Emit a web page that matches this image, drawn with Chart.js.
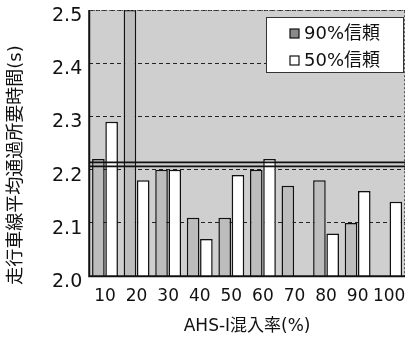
<!DOCTYPE html>
<html><head><meta charset="utf-8">
<script src="https://cdn.jsdelivr.net/npm/chart.js@4.4.0/dist/chart.umd.min.js"></script>
<style>html,body{margin:0;padding:0;background:#fff}#wrap{width:409px;height:340px}</style>
</head><body><div id="wrap"><canvas id="c" width="409" height="340"></canvas></div>
<script>
const categories = ['10','20','30','40','50','60','70','80','90','100'];
const conf90 = [2.22, 2.50, 2.20, 2.11, 2.11, 2.20, 2.17, 2.18, 2.10, null];
const conf50 = [2.29, 2.18, 2.20, 2.07, 2.19, 2.22, null, 2.08, 2.16, 2.14];
const seriesNames = ['90%信頼', '50%信頼'];
const refLine = [2.21];
const yTicks = [2.0, 2.1, 2.2, 2.3, 2.4, 2.5];
const yTitle = '走行車線平均通過所要時間(s)';
const xTitle = 'AHS-Ⅰ混入率(%)';

const FONT = '"DejaVu Sans", Verdana, "Noto Sans CJK JP", sans-serif';

const bgPlugin = {
  id: 'bg',
  beforeDraw(chart) {
    const {ctx, chartArea: a} = chart;
    ctx.save();
    ctx.fillStyle = '#cfcfcf';
    ctx.fillRect(a.left, a.top, a.right - a.left, a.bottom - a.top);
    ctx.restore();
  },
  afterDatasetsDraw(chart) {
    const {ctx, chartArea: a, scales} = chart;
    ctx.save();
    refLine.forEach(v => {
      const y = scales.y.getPixelForValue(v);
      ctx.strokeStyle = '#111';
      ctx.lineWidth = 1.6;
      ctx.beginPath(); ctx.moveTo(a.left, y - 2); ctx.lineTo(a.right, y - 2); ctx.stroke();
      ctx.beginPath(); ctx.moveTo(a.left, y + 2); ctx.lineTo(a.right, y + 2); ctx.stroke();
    });
    ctx.strokeStyle = '#555';
    ctx.lineWidth = 1;
    ctx.setLineDash([2, 2]);
    ctx.beginPath();
    ctx.moveTo(a.left, a.top + 0.5); ctx.lineTo(a.right - 0.5, a.top + 0.5); ctx.lineTo(a.right - 0.5, a.bottom);
    ctx.stroke();
    ctx.setLineDash([]);
    ctx.strokeStyle = '#111';
    ctx.lineWidth = 2;
    ctx.beginPath(); ctx.moveTo(a.left, a.top); ctx.lineTo(a.left, a.bottom); ctx.lineTo(a.right, a.bottom); ctx.stroke();
    // legend
    const lx = a.right - 139, ly = a.top + 7, lw = 138, lh = 56;
    ctx.fillStyle = '#fff';
    ctx.fillRect(lx, ly, lw, lh);
    ctx.strokeStyle = '#333';
    ctx.lineWidth = 1;
    ctx.strokeRect(lx + 0.5, ly + 0.5, lw - 1, lh - 1);
    ctx.font = '18px ' + FONT;
    ctx.textBaseline = 'middle';
    const fills = ['#8a8a8a', '#ffffff'];
    fills.forEach((f, i) => {
      const cy = ly + 16 + i * 27;
      ctx.fillStyle = f;
      ctx.fillRect(lx + 24, cy - 4, 9, 9);
      ctx.strokeStyle = '#111';
      ctx.lineWidth = 1.2;
      ctx.strokeRect(lx + 24, cy - 4, 9, 9);
      ctx.fillStyle = '#111';
      ctx.fillText(seriesNames[i], lx + 38, cy + 1);
    });
    ctx.restore();
  },
  afterDraw(chart) {
    const {ctx} = chart;
    ctx.save();
    ctx.translate(16, 165);
    ctx.rotate(-Math.PI / 2);
    ctx.font = '18px ' + FONT;
    ctx.fillStyle = '#111';
    ctx.textAlign = 'center';
    ctx.textBaseline = 'middle';
    ctx.fillText(yTitle, 0, 0);
    ctx.restore();
  }
};

new Chart(document.getElementById('c'), {
  type: 'bar',
  data: {
    labels: categories,
    datasets: [
      {label: seriesNames[0], data: conf90, backgroundColor: '#bdbdbd', borderColor: '#111', borderWidth: 1.5, borderSkipped: 'bottom', categoryPercentage: 0.84, barPercentage: 0.95},
      {label: seriesNames[1], data: conf50, backgroundColor: '#ffffff', borderColor: '#111', borderWidth: 1.5, borderSkipped: 'bottom', categoryPercentage: 0.84, barPercentage: 0.95}
    ]
  },
  options: {
    responsive: false,
    animation: false,
    devicePixelRatio: 1,
    layout: {padding: {top: 10, right: 4, left: 45, bottom: 3}},
    plugins: {legend: {display: false}, tooltip: {enabled: false}},
    scales: {
      x: {
        afterFit(s) { s.paddingLeft = 0; s.paddingRight = 0; },
        grid: {display: false, drawTicks: false},
        border: {display: false},
        ticks: {color: '#111', font: {size: 17, family: FONT}, padding: 10, maxRotation: 0, autoSkip: false},
        title: {display: true, text: xTitle, color: '#111', font: {size: 17, family: FONT}, padding: {top: 0, bottom: 0}}
      },
      y: {
        min: 2.0, max: 2.5,
        afterFit(s) { s.paddingTop = 0; s.paddingBottom = 0; },
        afterBuildTicks(s) { s.ticks = yTicks.map(v => ({value: v})); },
        grid: {color: '#222', lineWidth: 1, drawTicks: false},
        border: {display: false, dash: [4, 3]},
        ticks: {color: '#111', font: {size: 19, family: FONT}, padding: 7, labelOffset: 6, callback: v => Number(v).toFixed(1)},
        title: {display: false}
      }
    }
  },
  plugins: [bgPlugin]
});
</script></body></html>
